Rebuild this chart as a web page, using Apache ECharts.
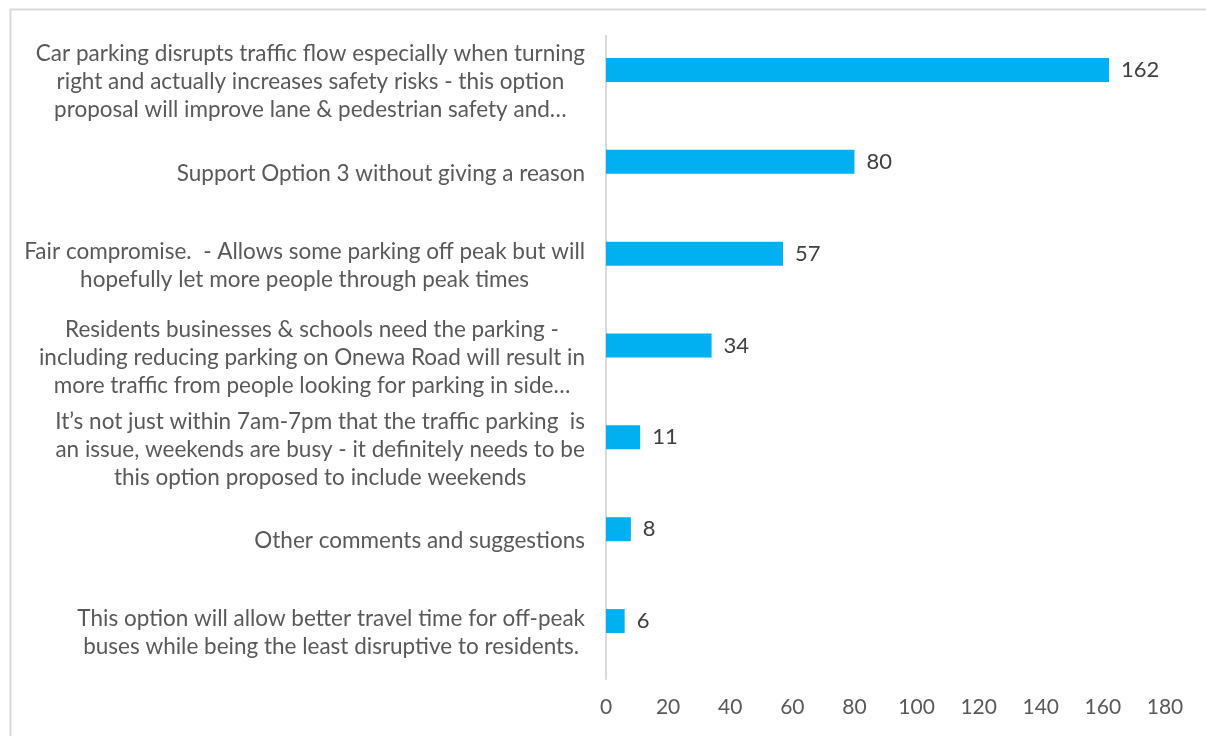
<!DOCTYPE html>
<html>
<head>
<meta charset="utf-8">
<script src="https://cdn.jsdelivr.net/npm/echarts@6/dist/echarts.min.js"></script>
<style>
  html, body { margin: 0; padding: 0; background: #fff; }
  #chart { width: 1206px; height: 736px; }
</style>
</head>
<body>
<div id="chart"></div>
<script>
// categories, top to bottom (line breaks as wrapped in the original)
var categories = [
  'Car parking disrupts traffic flow especially when turning\nright and actually increases safety risks - this option\nproposal will improve lane & pedestrian safety and…',
  'Support Option 3 without giving a reason',
  'Fair compromise.  - Allows some parking off peak but will\nhopefully let more people through peak times',
  'Residents businesses & schools need the parking -\nincluding reducing parking on Onewa Road will result in\nmore traffic from people looking for parking in side…',
  'It’s not just within 7am-7pm that the traffic parking  is\nan issue, weekends are busy - it definitely needs to be\nthis option proposed to include weekends',
  'Other comments and suggestions',
  'This option will allow better travel time for off-peak\nbuses while being the least disruptive to residents.'
];
var counts = [162, 80, 57, 34, 11, 8, 6];
var xTicks = { min: 0, max: 180, interval: 20 };

var chart = echarts.init(document.getElementById('chart'));

var option = {
  animation: false,
  textStyle: { fontFamily: 'Lato' },
  // outer chart border (only top/left visible in the picture)
  graphic: [
    {
      type: 'rect',
      left: 8,
      top: 7,
      shape: { width: 1400, height: 900 },
      style: { fill: 'none', stroke: '#d9d9d9', lineWidth: 2 },
      silent: true
    }
  ],
  grid: {
    left: 606,
    right: 41,
    top: 36,
    bottom: 57,
    containLabel: false
  },
  xAxis: {
    type: 'value',
    min: xTicks.min,
    max: xTicks.max,
    interval: xTicks.interval,
    axisLine: { show: false },
    axisTick: { show: false },
    splitLine: { show: false },
    axisLabel: {
      color: '#595959',
      fontSize: 21,
      margin: 18
    }
  },
  yAxis: {
    type: 'category',
    inverse: true,
    data: categories,
    axisLine: {
      show: true,
      lineStyle: { color: '#d9d9d9', width: 2 }
    },
    axisTick: { show: false },
    axisLabel: {
      margin: 21,
      align: 'right',
      formatter: function (val) {
        // each line centred inside the label block, like Excel wrapping
        return val.split('\n').map(function (s) { return '{c|' + s + '}'; }).join('\n');
      },
      rich: {
        c: {
          align: 'center',
          color: '#595959',
          fontSize: 22.5,
          lineHeight: 28,
          fontFamily: 'Lato'
        }
      }
    }
  },
  series: [
    {
      name: 'count',
      type: 'bar',
      data: counts,
      barWidth: 24,
      barGap: '0%',
      itemStyle: { color: '#00b0f0' },
      label: {
        show: true,
        position: 'right',
        distance: 12,
        color: '#404040',
        fontSize: 22
      }
    },
    {
      // empty companion series: Excel leaves room for it, so bars sit above centre
      name: 'spacer',
      type: 'bar',
      data: [],
      barWidth: 24
    }
  ]
};

chart.setOption(option);
</script>
</body>
</html>
